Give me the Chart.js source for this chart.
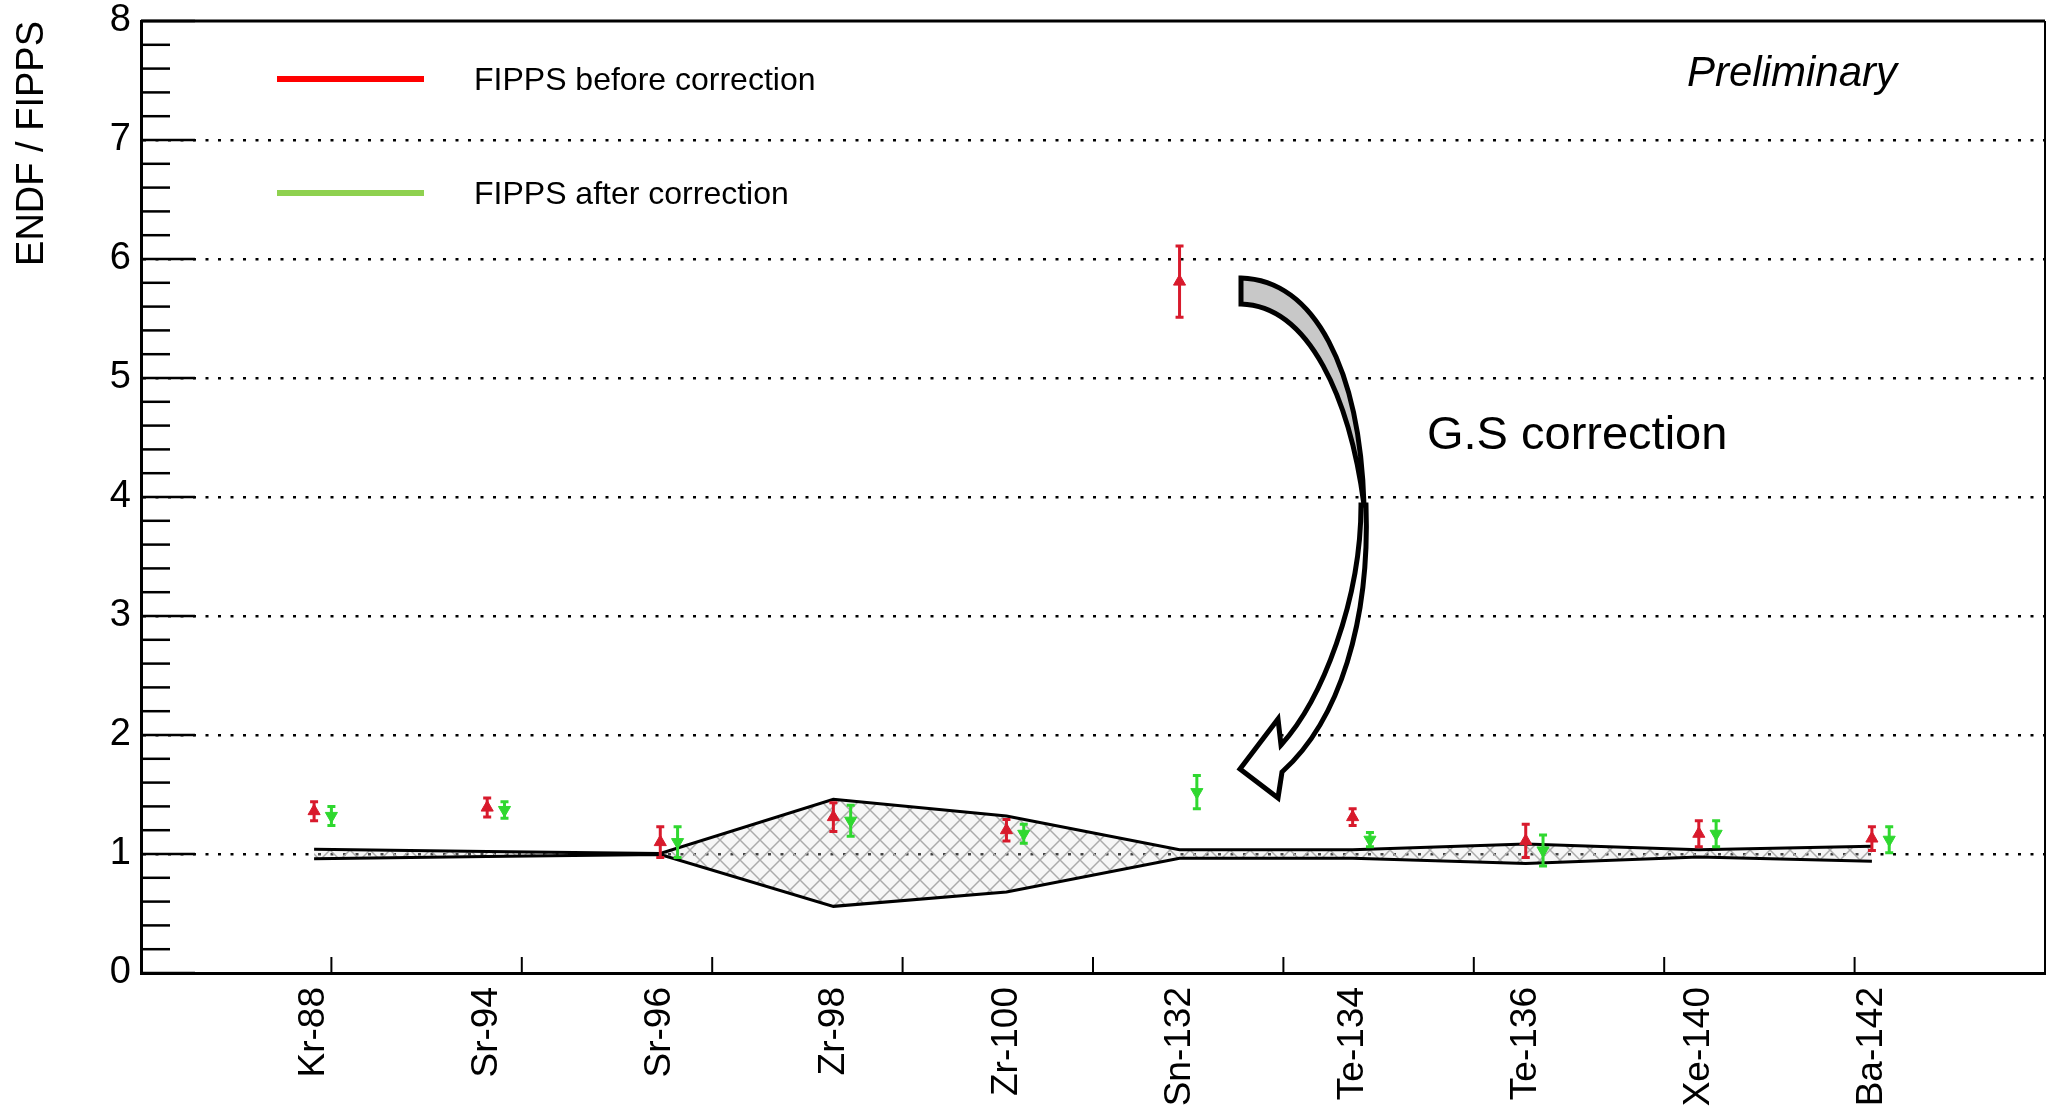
<!DOCTYPE html>
<html>
<head>
<meta charset="utf-8">
<title>ENDF / FIPPS</title>
<script src="https://cdn.jsdelivr.net/npm/chart.js@4.4.1/dist/chart.umd.min.js"></script>
<style>
    html, body { margin: 0; padding: 0; background: #fff; }
    #chart { display: block; }
</style>
</head>
<body>
<canvas id="chart" width="2047" height="1109"></canvas>
<script>
// isotopes on the x axis (placed at 1..10)
const isotopes = ['Kr-88', 'Sr-94', 'Sr-96', 'Zr-98', 'Zr-100', 'Sn-132', 'Te-134', 'Te-136', 'Xe-140', 'Ba-142'];

// FIPPS before correction
const beforeValues = [1.36, 1.39, 1.10, 1.31, 1.20, 5.81, 1.31, 1.11, 1.17, 1.13];
const beforeErrors = [0.08, 0.08, 0.13, 0.12, 0.09, 0.30, 0.07, 0.14, 0.11, 0.10];

// FIPPS after correction
const afterValues = [1.32, 1.37, 1.10, 1.28, 1.17, 1.52, 1.12, 1.03, 1.17, 1.12];
const afterErrors = [0.08, 0.07, 0.13, 0.13, 0.08, 0.14, 0.06, 0.13, 0.11, 0.11];

// uncertainty band around 1
const bandUpper = [1.04, 1.02, 1.005, 1.46, 1.32, 1.035, 1.035, 1.085, 1.035, 1.065];
const bandLower = [0.96, 0.98, 0.995, 0.56, 0.68, 0.965, 0.965, 0.92, 0.975, 0.94];

const yTickLabels = ['0', '1', '2', '3', '4', '5', '6', '7', '8'];

const FONT = "'Liberation Sans', Arial, Helvetica, sans-serif";
const RED = '#d81a2c';
const GREEN = '#2fd82f';

const toPoints = (vals, shift) => vals.map((v, i) => ({ x: i + 1 + shift, y: v }));

// hatch pattern for the band
const makeHatch = () => {
    const s = 20;
    const c = document.createElement('canvas');
    c.width = s; c.height = s;
    const g = c.getContext('2d');
    g.fillStyle = 'rgba(225,225,225,0.3)';
    g.fillRect(0, 0, s, s);
    g.strokeStyle = '#ababab';
    g.lineWidth = 1.5;
    g.beginPath();
    g.moveTo(0, 0); g.lineTo(s, s);
    g.moveTo(0, s); g.lineTo(s, 0);
    g.stroke();
    return g.createPattern(c, 'repeat');
};

// error bars, axis ticks, frame, legend and annotations
const decorations = {
    id: 'decorations',
    afterDatasetsDraw(chart) {
        const { ctx, scales: { x, y } } = chart;
        chart.data.datasets.forEach((ds) => {
            if (!ds.errors) return;
            ctx.save();
            ctx.strokeStyle = ds.borderColor;
            ctx.lineWidth = 3;
            ds.data.forEach((p, i) => {
                const px = x.getPixelForValue(p.x);
                const top = y.getPixelForValue(p.y + ds.errors[i]);
                const bot = y.getPixelForValue(p.y - ds.errors[i]);
                ctx.beginPath();
                ctx.moveTo(px, top); ctx.lineTo(px, bot);
                ctx.moveTo(px - 4, top); ctx.lineTo(px + 4, top);
                ctx.moveTo(px - 4, bot); ctx.lineTo(px + 4, bot);
                ctx.stroke();
            });
            ctx.restore();
        });
    },
    afterDraw(chart) {
        const { ctx, chartArea: a, scales: { x, y } } = chart;
        ctx.save();
        ctx.strokeStyle = '#000';

        // frame top and right
        ctx.lineWidth = 3;
        ctx.beginPath();
        ctx.moveTo(a.left, a.top); ctx.lineTo(a.right, a.top);
        ctx.stroke();
        ctx.lineWidth = 2;
        ctx.beginPath();
        ctx.moveTo(a.right, a.top); ctx.lineTo(a.right, a.bottom);
        ctx.stroke();

        // y ticks: major every 1, minor every 0.2
        ctx.lineWidth = 2.5;
        for (let k = 0; k <= 40; k++) {
            const py = y.getPixelForValue(k / 5);
            const len = k % 5 === 0 ? 54 : 29;
            ctx.beginPath();
            ctx.moveTo(a.left, py); ctx.lineTo(a.left + len, py);
            ctx.stroke();
        }

        // x ticks: 10 divisions over the axis
        ctx.lineWidth = 2;
        for (let k = 1; k < 10; k++) {
            const px = x.getPixelForValue(x.min + (x.max - x.min) * k / 10);
            ctx.beginPath();
            ctx.moveTo(px, a.bottom); ctx.lineTo(px, a.bottom - 16);
            ctx.stroke();
        }

        // legend
        ctx.lineWidth = 6;
        ctx.strokeStyle = '#ff0000';
        ctx.beginPath(); ctx.moveTo(277, 79); ctx.lineTo(424, 79); ctx.stroke();
        ctx.strokeStyle = '#8fd14f';
        ctx.beginPath(); ctx.moveTo(277, 193); ctx.lineTo(424, 193); ctx.stroke();
        ctx.fillStyle = '#000';
        ctx.textBaseline = 'middle';
        ctx.textAlign = 'left';
        ctx.font = `32px ${FONT}`;
        ctx.fillText('FIPPS before correction', 474, 81);
        ctx.fillText('FIPPS after correction', 474, 195);

        ctx.font = `italic 42px ${FONT}`;
        ctx.fillText('Preliminary', 1687, 74);

        ctx.font = `47px ${FONT}`;
        ctx.fillText('G.S correction', 1427, 436);

        // curved arrow
        ctx.lineJoin = 'miter';
        ctx.lineWidth = 5;
        ctx.strokeStyle = '#000';
        ctx.fillStyle = '#c8c8c8';
        ctx.beginPath();
        ctx.moveTo(1241, 278);
        ctx.bezierCurveTo(1315, 280, 1360, 370, 1364, 505);
        ctx.bezierCurveTo(1350, 400, 1310, 306, 1241, 304);
        ctx.closePath();
        ctx.fill();
        ctx.stroke();

        ctx.fillStyle = '#fff';
        ctx.beginPath();
        ctx.moveTo(1361, 505);
        ctx.bezierCurveTo(1361, 600, 1322, 700, 1281, 745);
        ctx.lineTo(1278, 719);
        ctx.lineTo(1240, 769);
        ctx.lineTo(1278, 798);
        ctx.lineTo(1282, 772);
        ctx.bezierCurveTo(1340, 720, 1370, 620, 1366, 505);
        ctx.closePath();
        ctx.fill();
        ctx.stroke();

        ctx.restore();
    }
};

const ctx = document.getElementById('chart').getContext('2d');
Chart.defaults.font.family = FONT;
Chart.defaults.color = '#000';

new Chart(ctx, {
    type: 'scatter',
    data: {
        datasets: [
            {
                label: 'FIPPS before correction',
                data: toPoints(beforeValues, 0),
                errors: beforeErrors,
                borderColor: RED,
                backgroundColor: RED,
                pointStyle: 'triangle',
                pointRadius: 7,
                borderWidth: 1
            },
            {
                label: 'FIPPS after correction',
                data: toPoints(afterValues, 0.1),
                errors: afterErrors,
                borderColor: GREEN,
                backgroundColor: GREEN,
                pointStyle: 'triangle',
                rotation: 180,
                pointRadius: 7,
                borderWidth: 1
            },
            {
                label: 'band upper',
                type: 'line',
                data: toPoints(bandUpper, 0),
                borderColor: '#000',
                borderWidth: 3,
                pointRadius: 0,
                tension: 0,
                fill: false
            },
            {
                label: 'band lower',
                type: 'line',
                data: toPoints(bandLower, 0),
                borderColor: '#000',
                borderWidth: 3,
                pointRadius: 0,
                tension: 0,
                fill: '-1',
                backgroundColor: makeHatch()
            }
        ]
    },
    options: {
        responsive: false,
        animation: false,
        devicePixelRatio: 1,
        layout: { autoPadding: false, padding: { top: 21, right: 2, left: 0, bottom: 0 } },
        plugins: {
            legend: { display: false },
            tooltip: { enabled: false }
        },
        scales: {
            x: {
                type: 'linear',
                min: 0,
                max: 11,
                afterBuildTicks: (scale) => {
                    scale.ticks = isotopes.map((_, i) => ({ value: i + 1 }));
                },
                afterFit: (scale) => {
                    scale.height = 136;
                    scale.paddingLeft = 0;
                    scale.paddingRight = 0;
                },
                ticks: {
                    autoSkip: false,
                    minRotation: 90,
                    maxRotation: 90,
                    padding: 14,
                    font: { size: 37 },
                    callback: (value) => isotopes[Math.round(value) - 1] || ''
                },
                grid: { display: false, drawTicks: false },
                border: { display: true, color: '#000', width: 3 }
            },
            y: {
                min: 0,
                max: 8,
                afterBuildTicks: (scale) => {
                    scale.ticks = yTickLabels.map((_, i) => ({ value: i }));
                },
                afterFit: (scale) => {
                    scale.width = 141;
                    scale.paddingTop = 0;
                    scale.paddingBottom = 0;
                },
                ticks: {
                    padding: 10,
                    font: { size: 38 },
                    callback: (value) => yTickLabels[value]
                },
                grid: {
                    drawTicks: false,
                    lineWidth: 2.5,
                    color: (c) => (c.tick && (c.tick.value === 0 || c.tick.value === 8)) ? 'rgba(0,0,0,0)' : '#000'
                },
                border: { display: true, color: '#000', width: 3, dash: [3, 9.5] },
                title: {
                    display: true,
                    text: 'ENDF / FIPPS',
                    align: 'end',
                    padding: { top: 10, bottom: 0 },
                    font: { size: 38 }
                }
            }
        }
    },
    plugins: [decorations]
});
</script>
</body>
</html>
